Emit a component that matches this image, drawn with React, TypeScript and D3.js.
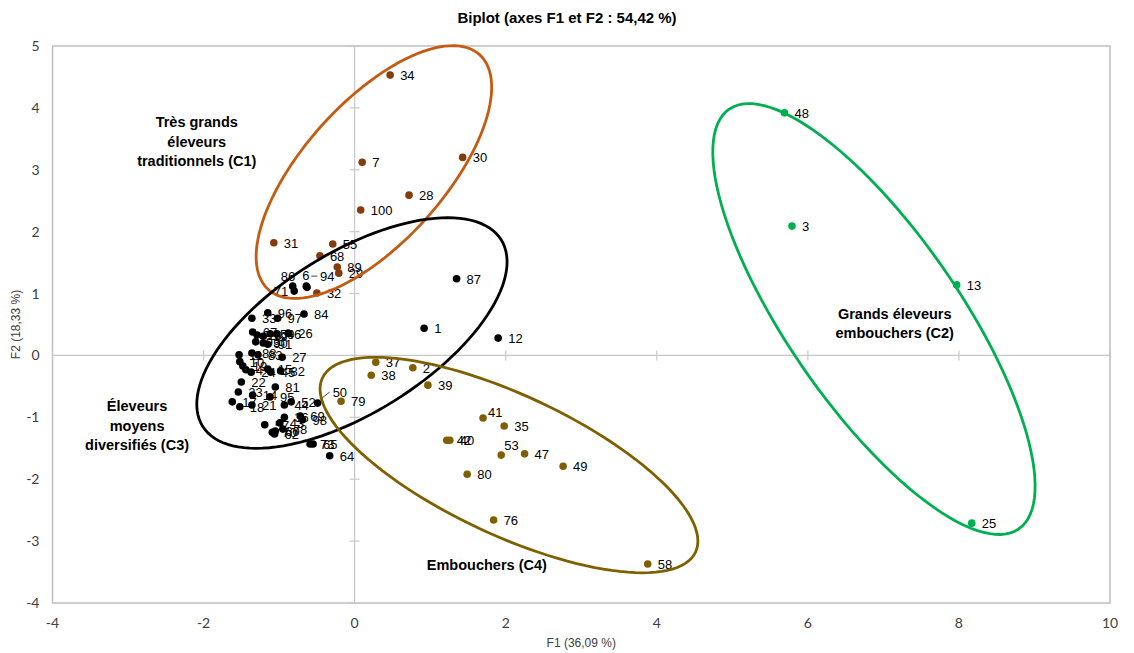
import * as d3 from 'd3';

// points: [label, F1, F2]
const c1Points: [string, number, number][] = [
  ['34', 0.47, 4.53], ['7', 0.1, 3.12], ['30', 1.43, 3.2], ['28', 0.72, 2.59],
  ['100', 0.08, 2.35], ['31', -1.07, 1.82], ['55', -0.29, 1.8], ['68', -0.46, 1.61],
  ['89', -0.23, 1.43], ['29', -0.21, 1.33], ['32', -0.5, 1.01],
];
const c2Points: [string, number, number][] = [
  ['48', 5.69, 3.92], ['3', 5.79, 2.09], ['13', 7.97, 1.14], ['25', 8.17, -2.71],
];
const c3Points: [string, number, number][] = [
  ['87', 1.35, 1.24], ['1', 0.92, 0.44], ['12', 1.9, 0.28], ['64', -0.33, -1.62],
  ['73', -0.59, -1.43], ['65', -0.55, -1.43], ['86', -0.82, 1.12], ['71', -0.8, 1.04],
  ['6', -0.64, 1.12], ['94', -0.63, 1.1], ['96', -1.15, 0.69], ['33', -1.36, 0.6],
  ['97', -1.02, 0.6], ['84', -0.67, 0.67], ['26', -0.88, 0.36], ['67', -1.35, 0.38],
  ['16', -1.29, 0.33], ['99', -1.21, 0.31], ['59', -1.12, 0.35], ['46', -1.03, 0.35],
  ['93', -1.31, 0.22], ['90', -1.21, 0.2], ['91', -1.15, 0.18], ['11', -1.53, 0.01],
  ['88', -1.36, 0.04], ['83', -1.28, 0.01], ['27', -0.96, -0.03], ['10', -1.52, -0.1],
  ['19', -1.48, -0.17], ['4', -1.44, -0.23], ['24', -1.37, -0.27], ['15', -1.15, -0.22],
  ['45', -1.11, -0.27], ['82', -0.98, -0.25], ['22', -1.5, -0.43], ['81', -1.05, -0.51],
  ['23', -1.54, -0.59], ['14', -1.35, -0.64], ['95', -1.12, -0.67], ['17', -1.62, -0.75],
  ['18', -1.52, -0.83], ['21', -1.36, -0.8], ['44', -0.93, -0.8], ['52', -0.84, -0.75],
  ['50', -0.49, -0.77], ['36', -0.93, -1.0], ['69', -0.72, -0.98], ['98', -0.69, -1.04],
  ['43', -0.99, -1.09], ['78', -0.95, -1.19], ['57', -1.19, -1.12], ['70', -1.09, -1.24],
  ['60', -1.05, -1.22], ['62', -1.06, -1.27],
];
const c4Points: [string, number, number][] = [
  ['37', 0.28, -0.11], ['2', 0.77, -0.2], ['38', 0.22, -0.32], ['39', 0.97, -0.48],
  ['79', -0.18, -0.74], ['41', 1.7, -1.01], ['35', 1.98, -1.14], ['42', 1.22, -1.37],
  ['40', 1.26, -1.37], ['53', 1.94, -1.61], ['47', 2.25, -1.59], ['49', 2.76, -1.79],
  ['80', 1.49, -1.92], ['76', 1.84, -2.66], ['58', 3.88, -3.37],
];

// ellipses: centre + two conjugate semi-diameters, in F1/F2 units
const ellipses = [
  { c: [0.255, 2.963], u: [1.399, 1.897], v: [0.688, -0.756], color: '#C55A11' },
  { c: [-0.036, 0.362], u: [1.976, 1.507], v: [0.561, -1.096], color: '#000000' },
  { c: [2.043, -1.771], u: [2.47, -1.407], v: [-0.392, -1.025], color: '#7F6000' },
  { c: [6.875, 0.588], u: [1.917, -3.391], v: [-0.937, -0.789], color: '#00B050' },
];

const groupLabels = [
  { lines: ['Très grands', 'éleveurs', 'traditionnels (C1)'], x: -2.09, y: 3.69 },
  { lines: ['Grands éleveurs', 'embouchers (C2)'], x: 7.15, y: 0.59 },
  { lines: ['Éleveurs', 'moyens', 'diversifiés (C3)'], x: -2.88, y: -0.9 },
  { lines: ['Embouchers (C4)'], x: 1.75, y: -3.47 },
];

const xTicks = [-4, -2, 0, 2, 4, 6, 8, 10];
const yTicks = [-4, -3, -2, -1, 0, 1, 2, 3, 4, 5];

// label nudges where Excel moved them
const nudge: Record<string, [number, number, string?]> = {
  '86': [-12, -5], '71': [-6, 5, 'end'], '6': [-4, -6], '94': [13, -6],
  '41': [5, -1], '53': [3, -5], '50': [15, -6],
};

const W = 1134, H = 653;

export default function App() {
  const x = d3.scaleLinear().domain([-4, 10]).range([52.5, 1110]);
  const y = d3.scaleLinear().domain([-4, 5]).range([603, 46]);

  const line = d3.line<[number, number]>().x(d => x(d[0])).y(d => y(d[1]));
  const ellipsePath = (e: typeof ellipses[0]) => {
    const pts: [number, number][] = d3.range(0, 121).map(i => {
      const t = (i / 120) * Math.PI * 2;
      return [
        e.c[0] + e.u[0] * Math.cos(t) + e.v[0] * Math.sin(t),
        e.c[1] + e.u[1] * Math.cos(t) + e.v[1] * Math.sin(t),
      ];
    });
    return line(pts) + 'Z';
  };

  const groups = [
    { pts: c1Points, color: '#843C0C' },
    { pts: c2Points, color: '#00B050' },
    { pts: c3Points, color: '#000000' },
    { pts: c4Points, color: '#7F6000' },
  ];

  const tickFont = 'Lato, "Open Sans", sans-serif';
  const arial = '"Liberation Sans", Arial, sans-serif';

  return (
    <svg width={W} height={H} style={{ position: 'absolute', left: 0, top: 0, background: '#fff' }}>
      <text x={567} y={23} textAnchor="middle" fontFamily={arial} fontWeight="bold" fontSize={15}>
        Biplot (axes F1 et F2 : 54,42 %)
      </text>

      {/* frame */}
      <rect x={x(-4)} y={y(5)} width={x(10) - x(-4)} height={y(-4) - y(5)}
        fill="none" stroke="#BFBFBF" strokeWidth={1.5} />
      {/* zero axes */}
      <line x1={x(0)} x2={x(0)} y1={y(5)} y2={y(-4)} stroke="#C8C8C8" strokeWidth={1.2} />
      <line x1={x(-4)} x2={x(10)} y1={y(0)} y2={y(0)} stroke="#C8C8C8" strokeWidth={1.2} />
      {yTicks.map(t => (
        <line key={'yt' + t} x1={x(0) - 5} x2={x(0) + 5} y1={y(t)} y2={y(t)} stroke="#C8C8C8" strokeWidth={1.2} />
      ))}
      {xTicks.map(t => (
        <line key={'xt' + t} x1={x(t)} x2={x(t)} y1={y(0) - 5} y2={y(0) + 5} stroke="#C8C8C8" strokeWidth={1.2} />
      ))}

      {/* tick labels */}
      {yTicks.map(t => (
        <text key={'yl' + t} x={x(-4) - 13} y={y(t) + 5} textAnchor="end"
          fontFamily={tickFont} fontSize={14} fill="#404040">{t}</text>
      ))}
      {xTicks.map(t => (
        <text key={'xl' + t} x={x(t)} y={y(-4) + 25} textAnchor="middle"
          fontFamily={tickFont} fontSize={14} fill="#404040">{t}</text>
      ))}

      <text x={(x(-4) + x(10)) / 2} y={647} textAnchor="middle" fontFamily={arial} fontSize={12} fill="#404040">
        F1 (36,09 %)
      </text>
      <text transform={`translate(20,${(y(5) + y(-4)) / 2}) rotate(-90)`} textAnchor="middle"
        fontFamily={arial} fontSize={12} fill="#404040">
        F2 (18,33 %)
      </text>

      {/* points + labels */}
      {groups.map((g, gi) => (
        <g key={gi}>
          {g.pts.map(([id, px, py]) => {
            const n = nudge[id] || [10, 5];
            return (
              <g key={id}>
                <circle cx={x(px)} cy={y(py)} r={3.8} fill={g.color} />
                <text x={x(px) + n[0]} y={y(py) + n[1]} textAnchor={n[2] || 'start'}
                  fontFamily={arial} fontSize={13} fill="#000">{id}</text>
              </g>
            );
          })}
        </g>
      ))}
      {/* leader for 50 */}
      <line x1={x(-0.49) + 3} y1={y(-0.77) - 4} x2={x(-0.49) + 12} y2={y(-0.77) - 11} stroke="#404040" strokeWidth={1} />
      <line x1={x(-0.64) + 5} y1={y(1.12) - 10} x2={x(-0.64) + 11} y2={y(1.12) - 10} stroke="#404040" strokeWidth={1} />

      {/* ellipses */}
      {ellipses.map((e, i) => (
        <path key={'el' + i} d={ellipsePath(e)} fill="none" stroke={e.color} strokeWidth={2.8} />
      ))}

      {groupLabels.map((gl, i) => (
        <text key={'gl' + i} x={x(gl.x)} y={y(gl.y)} textAnchor="middle"
          fontFamily={arial} fontWeight="bold" fontSize={14.5} fill="#000">
          {gl.lines.map((l, j) => (
            <tspan key={j} x={x(gl.x)} dy={j === 0 ? 0 : 19.5}>{l}</tspan>
          ))}
        </text>
      ))}
    </svg>
  );
}
